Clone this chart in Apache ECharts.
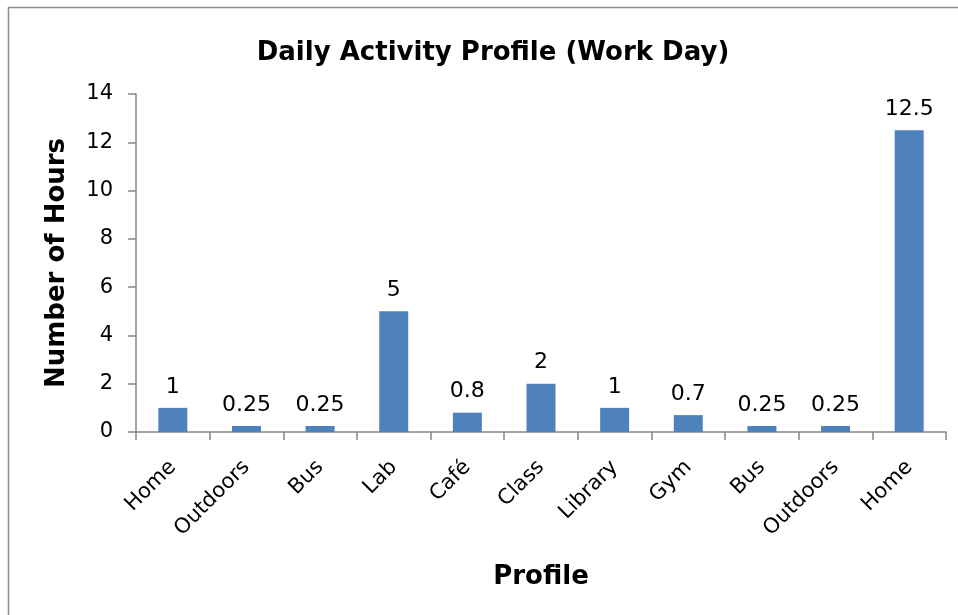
<!DOCTYPE html>
<html>
<head>
<meta charset="utf-8">
<script src="https://cdn.jsdelivr.net/npm/echarts@6/dist/echarts.min.js"></script>
<style>
    html, body { margin: 0; padding: 0; background: #fff; }
    #chart { width: 958px; height: 615px; }
</style>
</head>
<body>
<div id="chart"></div>
<script>
    // places visited through the day, in order
    const categories = ['Home', 'Outdoors', 'Bus', 'Lab', 'Café', 'Class', 'Library', 'Gym', 'Bus', 'Outdoors', 'Home'];
    const hours = [1, 0.25, 0.25, 5, 0.8, 2, 1, 0.7, 0.25, 0.25, 12.5];

    const font = 'DejaVu Sans';
    const axisGray = '#868686';

    const myChart = echarts.init(document.getElementById('chart'));
    myChart.setOption({
        animation: false,
        textStyle: { fontFamily: font },
        title: {
            text: 'Daily Activity Profile (Work Day)',
            left: 488,
            top: 35,
            textAlign: 'center',
            textStyle: { fontFamily: font, fontSize: 26, fontWeight: 'bold', color: '#000' }
        },
        graphic: [{
            type: 'rect',
            shape: { x: 8.5, y: 7.5, width: 1000, height: 700 },
            style: { fill: 'none', stroke: '#8c8c8c', lineWidth: 1.5 },
            silent: true
        }],
        grid: { left: 136, right: 12, top: 94, bottom: 183 },
        xAxis: {
            type: 'category',
            data: categories,
            name: 'Profile',
            nameLocation: 'middle',
            nameGap: 132,
            nameTextStyle: { fontFamily: font, fontSize: 26, fontWeight: 'bold', color: '#000' },
            axisLine: { lineStyle: { color: axisGray, width: 1.5 } },
            axisTick: { show: true, length: 8, lineStyle: { color: axisGray, width: 1.5 } },
            axisLabel: { rotate: 45, fontSize: 21, color: '#000', margin: 32, interval: 0 }
        },
        yAxis: {
            type: 'value',
            min: 0,
            max: 14,
            interval: 2,
            name: 'Number of Hours',
            nameLocation: 'middle',
            nameGap: 66,
            nameTextStyle: { fontFamily: font, fontSize: 26, fontWeight: 'bold', color: '#000' },
            axisLine: { show: true, lineStyle: { color: axisGray, width: 1.5 } },
            axisTick: { show: true, length: 8, lineStyle: { color: axisGray, width: 1.5 } },
            axisLabel: { fontSize: 21, color: '#000', margin: 23 },
            splitLine: { show: false }
        },
        series: [{
            type: 'bar',
            data: hours,
            barWidth: 29,
            itemStyle: { color: '#4f81bd' },
            label: {
                show: true,
                position: 'top',
                distance: 10,
                fontSize: 22,
                color: '#000'
            }
        }]
    });
</script>
</body>
</html>
